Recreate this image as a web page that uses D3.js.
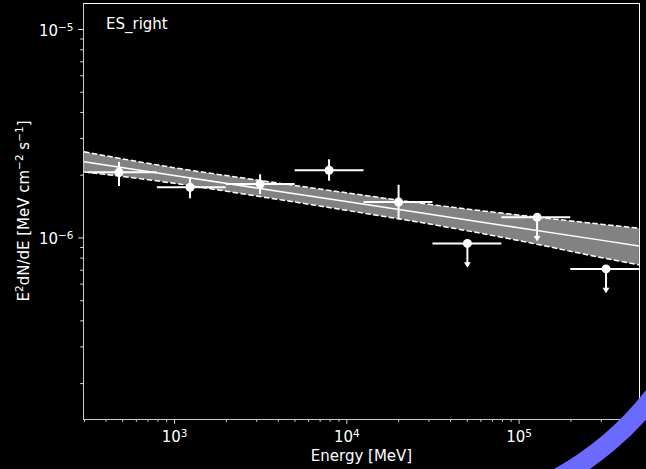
<!DOCTYPE html>
<html>
<head>
<meta charset="utf-8">
<script src="https://cdn.jsdelivr.net/npm/d3@7"></script>
<style>
  body { margin: 0; background: #000; }
  svg { display: block; }
  text { font-family: "DejaVu Sans", sans-serif; fill: #fff; }
</style>
</head>
<body>
<script>
// SED points, E^2 dN/dE in MeV cm^-2 s^-1
var energy = [479, 1238, 3158, 7941, 20110, 50450, 128100, 322000];
var eLo = [316, 794, 1995, 5012, 12589, 31623, 79433, 199526];
var eHi = [794, 1995, 5012, 12589, 31623, 79433, 199526, 501187];
var flux = [2.053e-6, 1.739e-6, 1.804e-6, 2.100e-6, 1.479e-6, 9.36e-7, 1.248e-6, 7.06e-7];
var fluxHi = [2.309e-6, 1.934e-6, 2.009e-6, 2.371e-6, 1.790e-6, null, null, null];
var fluxLo = [1.764e-6, 1.540e-6, 1.615e-6, 1.871e-6, 1.220e-6, null, null, null];
var isUL = [false, false, false, false, false, true, true, true];
var ulFrac = 0.765;

// fitted model and its butterfly
var bandE = [300, 1000, 3000, 1e4, 3e4, 1e5, 3e5, 5e5];
var bandMid = [2.306e-6, 1.982e-6, 1.728e-6, 1.487e-6, 1.295e-6, 1.113e-6, 9.705e-7, 9.10e-7];
var bandHi = [2.576e-6, 2.160e-6, 1.888e-6, 1.638e-6, 1.443e-6, 1.280e-6, 1.158e-6, 1.107e-6];
var bandLo = [2.064e-6, 1.819e-6, 1.581e-6, 1.349e-6, 1.162e-6, 9.663e-7, 8.013e-7, 7.39e-7];

var xTicks = [1e3, 1e4, 1e5];
var xTickExp = ["3", "4", "5"];
var yTicks = [1e-5, 1e-6];
var yTickExp = ["\u22125", "\u22126"];
var title = "ES_right";

var m = {t: 3, r: 6, b: 50, l: 83},
  width = 646 - m.l - m.r,
  height = 469 - m.t - m.b;

var fs = 15;
var sup = fs * 0.7;

var x = d3.scaleLog().domain([296, 5.07e5]).range([0, width]);
var y = d3.scaleLog().domain([1.345e-7, 1.333e-5]).range([height, 0]);

var svg = d3.select("body").append("svg")
  .attr("width", 646)
  .attr("height", 469);

svg.append("rect").attr("width", 646).attr("height", 469).attr("fill", "#000");

var g = svg.append("g")
  .attr("transform", "translate(" + m.l + "," + m.t + ")");

g.append("clipPath").attr("id", "clip")
  .append("rect").attr("width", width).attr("height", height);

var plot = g.append("g").attr("clip-path", "url(#clip)");

var band = bandE.map(function(e, i) {
  return {e: e, mid: bandMid[i], hi: bandHi[i], lo: bandLo[i]};
});

plot.append("path")
  .datum(band)
  .attr("fill", "#828282")
  .attr("d", d3.area()
    .curve(d3.curveMonotoneX)
    .x(function(d) { return x(d.e); })
    .y0(function(d) { return y(d.lo); })
    .y1(function(d) { return y(d.hi); }));

["hi", "lo"].forEach(function(k) {
  plot.append("path")
    .datum(band)
    .attr("fill", "none")
    .attr("stroke", "#fff")
    .attr("stroke-width", 1.5)
    .attr("stroke-dasharray", "5.5,2.4")
    .attr("d", d3.line()
      .curve(d3.curveMonotoneX)
      .x(function(d) { return x(d.e); })
      .y(function(d) { return y(d[k]); }));
});

plot.append("path")
  .datum(band)
  .attr("fill", "none")
  .attr("stroke", "#fff")
  .attr("stroke-width", 1.5)
  .attr("d", d3.line()
    .x(function(d) { return x(d.e); })
    .y(function(d) { return y(d.mid); }));

var pts = energy.map(function(e, i) {
  return {e: e, lo: eLo[i], hi: eHi[i], f: flux[i], fh: fluxHi[i], fl: fluxLo[i], ul: isUL[i]};
});

plot.selectAll(".xerr")
  .data(pts)
  .enter().append("line")
  .attr("class", "xerr")
  .attr("x1", function(d) { return x(d.lo); })
  .attr("x2", function(d) { return x(d.hi); })
  .attr("y1", function(d) { return y(d.f); })
  .attr("y2", function(d) { return y(d.f); })
  .attr("stroke", "#fff")
  .attr("stroke-width", 2);

plot.selectAll(".yerr")
  .data(pts)
  .enter().append("line")
  .attr("class", "yerr")
  .attr("x1", function(d) { return x(d.e); })
  .attr("x2", function(d) { return x(d.e); })
  .attr("y1", function(d) { return d.ul ? y(d.f) : y(d.fh); })
  .attr("y2", function(d) { return d.ul ? y(d.f * ulFrac) - 3 : y(d.fl); })
  .attr("stroke", "#fff")
  .attr("stroke-width", 2);

// upper limit carets
plot.selectAll(".arrow")
  .data(pts.filter(function(d) { return d.ul; }))
  .enter().append("path")
  .attr("class", "arrow")
  .attr("fill", "#fff")
  .attr("d", function(d) {
    var cx = x(d.e), cy = y(d.f * ulFrac);
    return "M" + (cx - 3.4) + "," + (cy - 5.5) + "L" + (cx + 3.4) + "," + (cy - 5.5) + "L" + cx + "," + cy + "Z";
  });

plot.selectAll(".dot")
  .data(pts)
  .enter().append("circle")
  .attr("class", "dot")
  .attr("r", 4.5)
  .attr("cx", function(d) { return x(d.e); })
  .attr("cy", function(d) { return y(d.f); })
  .attr("fill", "#fff");

// axes
var xMinor = x.ticks().filter(function(t) { return xTicks.indexOf(t) < 0; });
var yMinor = y.ticks().filter(function(t) { return yTicks.indexOf(t) < 0; });

function styleAxis(sel) {
  sel.select(".domain").remove();
  sel.selectAll(".tick line").attr("stroke", "#ddd").attr("stroke-width", 1);
}

g.append("g")
  .attr("transform", "translate(0," + height + ")")
  .call(d3.axisBottom(x).tickValues(xMinor).tickSize(2.8).tickFormat(""))
  .call(styleAxis);

var xa = g.append("g")
  .attr("transform", "translate(0," + height + ")")
  .call(d3.axisBottom(x).tickValues(xTicks).tickSize(4.9).tickFormat(function() { return ""; }))
  .call(styleAxis);

xa.selectAll(".tick text")
  .attr("y", 0).attr("dy", null)
  .attr("fill", "#eee")
  .attr("text-anchor", "middle")
  .style("font-size", fs + "px")
  .style("font-family", "DejaVu Sans")
  .each(function(d, i) {
    var t = d3.select(this).attr("transform", "translate(0,22.7)");
    t.append("tspan").text("10");
    t.append("tspan").attr("dy", -4.5).style("font-size", sup + "px").text(xTickExp[i]);
  });

g.append("g")
  .call(d3.axisLeft(y).tickValues(yMinor).tickSize(2.8).tickFormat(""))
  .call(styleAxis);

var ya = g.append("g")
  .call(d3.axisLeft(y).tickValues(yTicks).tickSize(4.9).tickFormat(function() { return ""; }))
  .call(styleAxis);

ya.selectAll(".tick text")
  .attr("x", -9.5).attr("dy", null)
  .attr("fill", "#eee")
  .attr("text-anchor", "end")
  .style("font-size", fs + "px")
  .style("font-family", "DejaVu Sans")
  .each(function(d, i) {
    var t = d3.select(this).attr("transform", "translate(0,6.3)");
    t.append("tspan").text("10");
    t.append("tspan").attr("dy", -5).style("font-size", sup + "px").text(yTickExp[i]);
  });

// spines
g.append("line").attr("x1", 0.5).attr("x2", 0.5).attr("y1", 0).attr("y2", height)
  .attr("stroke", "#ccc");
g.append("line").attr("x1", 0).attr("x2", width).attr("y1", height + 0.5).attr("y2", height + 0.5)
  .attr("stroke", "#ccc");
g.append("line").attr("x1", width - 0.5).attr("x2", width - 0.5).attr("y1", 0).attr("y2", height)
  .attr("stroke", "#fff");
g.append("line").attr("x1", 0).attr("x2", width).attr("y1", 0.5).attr("y2", 0.5)
  .attr("stroke", "#fff");

// labels
g.append("text")
  .attr("x", 23)
  .attr("y", 25.5)
  .style("font-size", fs + "px")
  .text(title);

g.append("text")
  .attr("x", width / 2)
  .attr("y", 458)
  .attr("text-anchor", "middle")
  .attr("fill", "#eee")
  .style("font-size", fs + "px")
  .text("Energy [MeV]");

var yl = svg.append("text")
  .attr("transform", "translate(28.5," + (m.t + height / 2) + ") rotate(-90)")
  .attr("text-anchor", "middle")
  .attr("fill", "#eee")
  .style("font-size", fs + "px");
yl.append("tspan").text("E");
yl.append("tspan").attr("dy", -5.5).style("font-size", sup + "px").text("2");
yl.append("tspan").attr("dy", 5.5).text("dN/dE [MeV cm");
yl.append("tspan").attr("dy", -5.5).style("font-size", sup + "px").text("\u22122");
yl.append("tspan").attr("dy", 5.5).text(" s");
yl.append("tspan").attr("dy", -5.5).style("font-size", sup + "px").text("\u22121");
yl.append("tspan").attr("dy", 5.5).text("]");

// blue ring fragment in the lower right corner
svg.append("path")
  .attr("transform", "translate(410,208)")
  .attr("fill", "#6a6aff")
  .attr("d", d3.arc()
    .innerRadius(298)
    .outerRadius(317)
    .startAngle(Math.PI * 120 / 180)
    .endAngle(Math.PI * 160 / 180)());
</script>
</body>
</html>
